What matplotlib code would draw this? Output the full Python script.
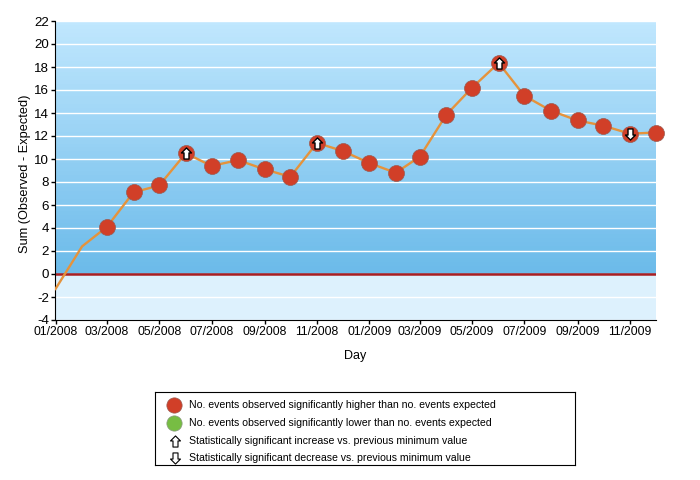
import matplotlib
matplotlib.use('Agg')
import matplotlib.pyplot as plt
import matplotlib.dates as mdates
from matplotlib.colors import LinearSegmentedColormap
from matplotlib.path import Path
import numpy as np
import pandas as pd

plt.rcParams['font.family'] = ['Liberation Sans', 'DejaVu Sans']
plt.rcParams['axes.unicode_minus'] = False

months = pd.date_range('2008-01-01', '2009-12-01', freq='MS')
values = [-1.3, 2.4, 4.1, 7.1, 7.7, 10.5, 9.4, 9.9, 9.1, 8.45, 11.4, 10.7,
          9.65, 8.8, 10.2, 13.85, 16.2, 18.35, 15.5, 14.2, 13.35, 12.9, 12.2, 12.3]
high_idx = [2, 3, 4, 5, 6, 7, 8, 9, 10, 11, 12, 13, 14, 15, 16, 17, 18, 19, 20, 21, 22, 23]
up_idx = [5, 10, 17]
down_idx = [22]
y_ticks = list(range(-4, 24, 2))
legend_labels = ['No. events observed significantly higher than no. events expected',
                 'No. events observed significantly lower than no. events expected',
                 'Statistically significant increase vs. previous minimum value',
                 'Statistically significant decrease vs. previous minimum value']

RED = '#d13f28'
GREEN = '#77bd43'
ORANGE = '#e5933c'

# arrow shape for the markers
up_arrow = Path([(0, 1), (0.9, 0.1), (0.45, 0.1), (0.45, -1), (-0.45, -1),
                 (-0.45, 0.1), (-0.9, 0.1), (0, 1)], closed=True)
down_arrow = Path(up_arrow.vertices * [1, -1], closed=True)

fig = plt.figure(figsize=(7, 4.8), dpi=100)
ax = fig.add_axes([55.5 / 700, 1 - 320 / 480, 600 / 700, 299 / 480])

x = mdates.date2num(months)
x0, x1 = x[0], x[-1]

# background: gradient above zero, pale band below
cmap = LinearSegmentedColormap.from_list('bg', ['#c0e7fe', '#6cbbea'])
grad = np.linspace(0, 1, 64)[:, None]
ax.imshow(grad, cmap=cmap, extent=[x0, x1, 0, 22], origin='upper', aspect='auto', zorder=0)
ax.axhspan(-4, 0, color='#ddf1fd', lw=0, zorder=0)

for t in y_ticks:
    ax.axhline(t, color='white', lw=1, zorder=1)
ax.axhline(0, color='#a81e22', lw=1.8, zorder=2)

ax.plot(x, values, color=ORANGE, lw=1.7, zorder=3)
ax.plot(x[high_idx], np.array(values)[high_idx], 'o', color=RED, ms=11.5,
        mec='#9a5a50', mew=0.5, zorder=4, clip_on=False)
ax.plot(x[up_idx], np.array(values)[up_idx], ls='', marker=up_arrow, ms=8,
        mfc='white', mec='black', mew=1, zorder=5)
ax.plot(x[down_idx], np.array(values)[down_idx], ls='', marker=down_arrow, ms=8,
        mfc='white', mec='black', mew=1, zorder=5)

ax.set_xlim(x0, x1)
ax.set_ylim(-4, 22)
ax.set_yticks(y_ticks)
ax.set_xticks(x[::2])
ax.set_xticklabels([m.strftime('%m/%Y') for m in months[::2]])
ax.tick_params(axis='x', labelsize=8.8, length=3, width=1, pad=1.5)
ax.tick_params(axis='y', labelsize=9.6, length=3, width=1, pad=1.5)
for s in ['top', 'right']:
    ax.spines[s].set_visible(False)
ax.set_ylabel('Sum (Observed - Expected)', fontsize=9.2, labelpad=2, y=0.49)
ax.set_xlabel('Day', fontsize=9, labelpad=8.5)

# legend box, drawn on its own axes
lg = fig.add_axes([155 / 700, 1 - 465 / 480, 420 / 700, 73 / 480])
lg.set_xlim(0, 420)
lg.set_ylim(73, 0)
lg.set_xticks([])
lg.set_yticks([])
rows = [13, 31, 49, 66]
lg.plot(18.5, rows[0], 'o', color=RED, ms=11, mec='#9a5a50', mew=0.5)
lg.plot(18.5, rows[1], 'o', color=GREEN, ms=11, mec='#8a9a80', mew=0.5)
lg.plot(19.5, rows[2], ls='', marker=up_arrow, ms=8, mfc='white', mec='black', mew=0.8)
lg.plot(19.5, rows[3], ls='', marker=down_arrow, ms=8, mfc='white', mec='black', mew=0.8)
for r, lab in zip(rows, legend_labels):
    lg.text(34, r, lab, fontsize=7.55, va='center', ha='left')

fig.savefig('out.png', dpi=100)
